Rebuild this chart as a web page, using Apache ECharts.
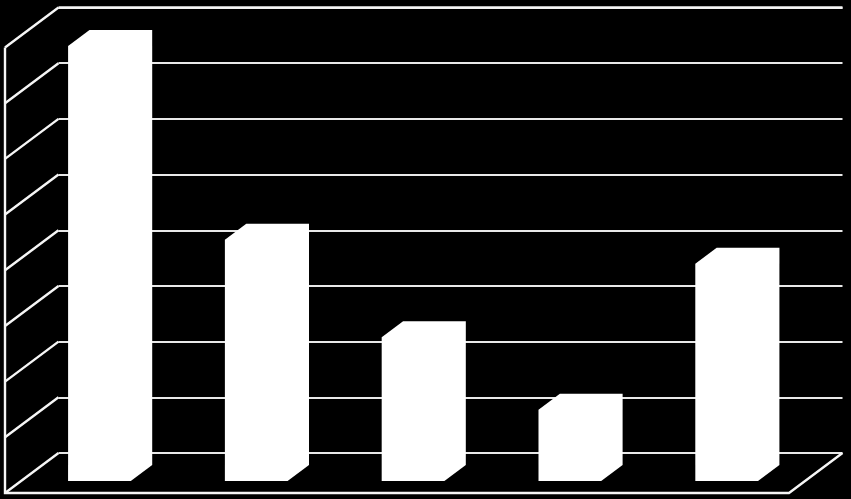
<!DOCTYPE html>
<html>
<head>
<meta charset="utf-8">
<style>html,body{margin:0;padding:0;background:#000}#c{width:851px;height:499px}</style>
<script src="https://cdn.jsdelivr.net/npm/echarts@6/dist/echarts.min.js"></script>
</head>
<body>
<div id="c"></div>
<script>
var categories = ['1', '2', '3', '4', '5'];
var values = [39.05, 21.65, 12.9, 6.4, 19.5];
var ticks = [0, 5, 10, 15, 20, 25, 30, 35, 40];

var DEPTH_X = 53.5, DEPTH_Y = 40, BAR_FRONT = 0.7, BAR_BACK = 0.3, BAR_WIDTH = 0.4;
var LINE = { stroke: '#f6f6f6', lineWidth: 2.4, fill: null };

var chart = echarts.init(document.getElementById('c'), null, { renderer: 'canvas' });
chart.setOption({
  animation: false,
  backgroundColor: '#000',
  grid: { left: 58.5, right: 8.5, top: 7.5, bottom: 46 },
  xAxis: { type: 'category', data: categories, axisLine: { show: false }, axisTick: { show: false }, axisLabel: { show: false }, splitLine: { show: false } },
  yAxis: {
    type: 'value', min: ticks[0], max: ticks[ticks.length - 1], interval: ticks[1] - ticks[0],
    axisLine: { show: false }, axisTick: { show: false }, axisLabel: { show: false },
    splitLine: { show: true, lineStyle: { color: '#e8e8e8', width: 2 } }
  },
  series: [
    {
      // side wall: one diagonal for every tick
      type: 'custom', silent: true, clip: false, z: 2,
      data: ticks.map(function (t) { return [0, t]; }),
      encode: { x: 0, y: 1 },
      renderItem: function (params, api) {
        var y = api.coord([0, api.value(1)])[1];
        var x = params.coordSys.x;
        return { type: 'line', shape: { x1: x, y1: y, x2: x - DEPTH_X, y2: y + DEPTH_Y }, style: LINE };
      }
    },
    {
      // left edge of the side wall, front and right edges of the floor, top edge of the back wall
      type: 'custom', silent: true, clip: false, z: 2,
      data: [[0, ticks[0]]],
      encode: { x: 0, y: 1 },
      renderItem: function (params, api) {
        var cs = params.coordSys;
        var base = api.coord([0, ticks[0]])[1];
        var top = api.coord([0, ticks[ticks.length - 1]])[1];
        var l = cs.x - DEPTH_X, r = cs.x + cs.width;
        return {
          type: 'group',
          children: [
            { type: 'polyline', shape: { points: [
              [l, top + DEPTH_Y], [l, base + DEPTH_Y], [r - DEPTH_X, base + DEPTH_Y], [r, base]
            ] }, style: LINE },
            { type: 'line', shape: { x1: cs.x, y1: top, x2: r, y2: top }, style: LINE }
          ]
        };
      }
    },
    {
      // the bars
      type: 'custom', silent: true, clip: false, z: 3,
      data: values.map(function (v, i) { return [i, v]; }),
      encode: { x: 0, y: 1 },
      renderItem: function (params, api) {
        var i = api.value(0);
        var base = api.coord([i, 0]);
        var top = api.coord([i, api.value(1)])[1];
        var w = api.size([1, 0])[0] * BAR_WIDTH;
        var fx = base[0] - DEPTH_X * BAR_FRONT - w / 2, fy = DEPTH_Y * BAR_FRONT;
        var bx = base[0] - DEPTH_X * BAR_BACK - w / 2, by = DEPTH_Y * BAR_BACK;
        return {
          type: 'polygon',
          shape: { points: [
            [fx, base[1] + fy],
            [fx, top + fy],
            [bx, top + by],
            [bx + w, top + by],
            [bx + w, base[1] + by],
            [fx + w, base[1] + fy]
          ] },
          style: { fill: '#fff' }
        };
      }
    }
  ]
});
</script>
</body>
</html>
